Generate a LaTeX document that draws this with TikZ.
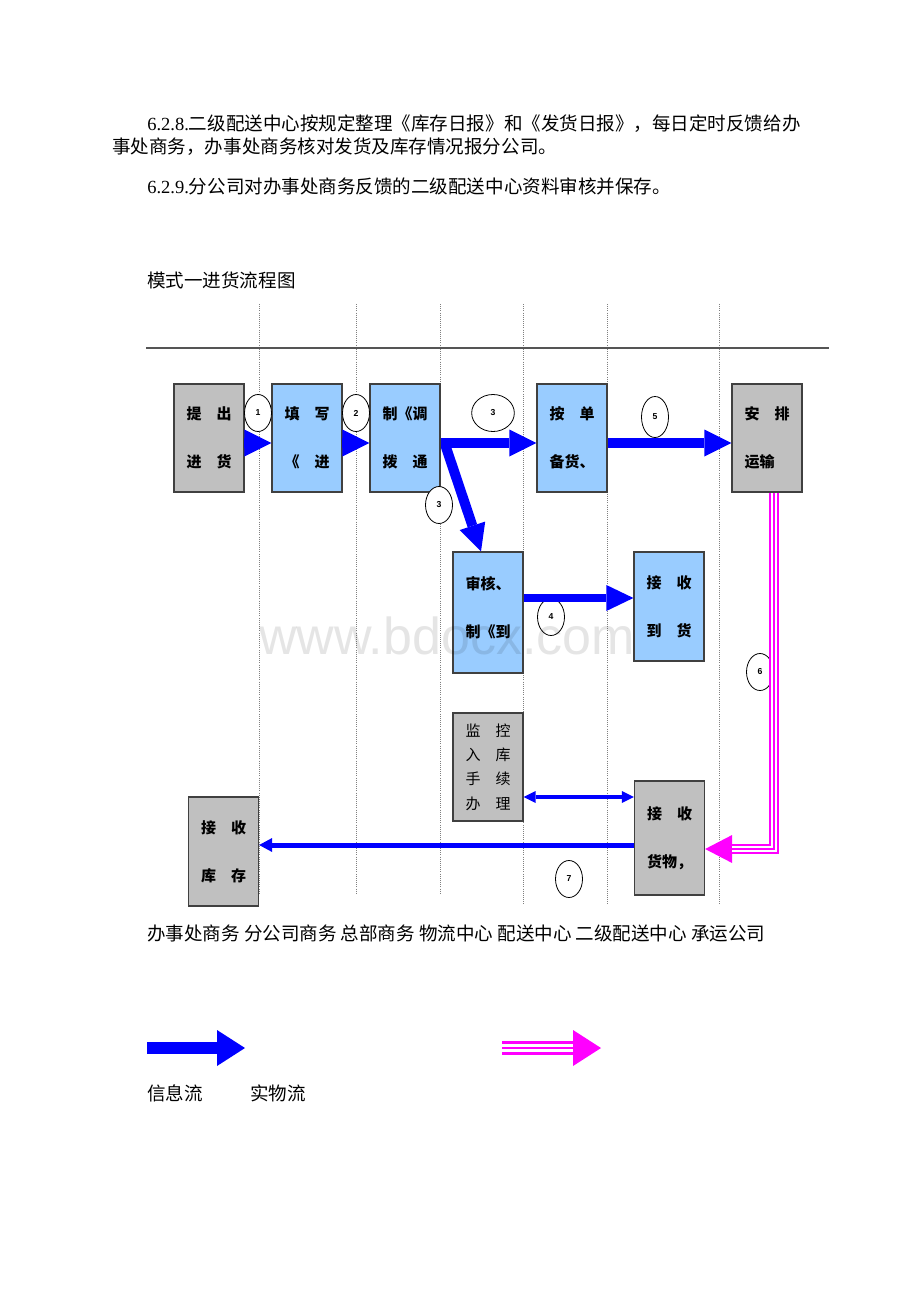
\documentclass[tikz,border=0pt]{standalone}
\usepackage{fontspec}
\setmainfont{Liberation Serif}
\newfontfamily\cjk{Noto Sans CJK SC}
\newfontfamily\wmfont{Liberation Sans}
\usetikzlibrary{arrows.meta,shapes.geometric,calc}

\definecolor{boxgray}{RGB}{192,192,192}
\definecolor{boxblue}{RGB}{153,204,255}
\definecolor{infoblue}{RGB}{0,0,255}
\definecolor{realpink}{RGB}{255,0,255}
\definecolor{rulegray}{RGB}{85,85,85}

\begin{document}
\begin{tikzpicture}[x=0.75pt, y=-0.75pt,
    box/.style={draw=black!75, line width=0.9pt, inner sep=0pt,
        minimum width=52.5pt, minimum height=81pt, align=left,
        font=\cjk\bfseries\fontsize{11.25pt}{36pt}\selectfont},
    graybox/.style={box, fill=boxgray},
    bluebox/.style={box, fill=boxblue},
    boxtext/.style={inner sep=0pt, align=left,
        font=\cjk\bfseries\fontsize{11.25pt}{36pt}\selectfont},
    stepno/.style={ellipse, draw, fill=white, line width=0.6pt, inner sep=0pt,
        minimum width=20.25pt, minimum height=27.75pt,
        font=\wmfont\bfseries\fontsize{6.5pt}{7pt}\selectfont},
    info/.style={draw=infoblue, line width=7.5pt,
        -{Triangle[length=20.25pt, width=20.25pt, line width=0pt]}},
    real/.style={draw=realpink, line width=7.5pt,
        -{Triangle[length=20.25pt, width=21pt, line width=0pt]}},
    lane/.style={densely dotted, black!50, line width=0.6pt},
    txt/.style={anchor=west, inner sep=0pt,
        font=\cjk\fontsize{13.9pt}{16pt}\selectfont}]

    \fill[white] (0, 0) rectangle (920, 1302);
    \useasboundingbox (0, 0) rectangle (920, 1302);

    % text before the chart
    \node[txt] (p1) at (147, 124) {{\rmfamily 6.2.8.}二级配送中心按规定整理《库存日报》和《发货日报》，每日定时反馈给办};
    \node[txt] (p2) at (112, 147) {事处商务，办事处商务核对发货及库存情况报分公司。};
    \node[txt] (p3) at (147, 186) {{\rmfamily 6.2.9.}分公司对办事处商务反馈的二级配送中心资料审核并保存。};
    \node[txt] (title) at (147, 280) {模式一进货流程图};

    % swim lanes
    \foreach \x/\yend in {259/893, 356/893, 440/893, 523/905, 607/905, 719/905} {
        \draw[lane] (\x, 304) -- (\x, \yend);
    }
    \draw[rulegray, line width=0.9pt] (146, 348) -- (829, 348);

    % boxes
    \node[graybox] (tichu) at (209, 438) {提　出\\进　货};
    \node[bluebox] (tianxie) at (307, 438) {填　写\\《　进};
    \node[bluebox] (zhidiao) at (405, 438) {制《调\\拨　通};
    \node[bluebox] (andan) at (572, 438) {按　单\\备货、};
    \node[graybox] (anpai) at (767, 438) {安　排\\运输};
    \node[bluebox, minimum height=90.75pt] (shenhe) at (488, 612.5) {};
    \node[boxtext] (shenhe-t) at (488, 608) {审核、\\制《到};
    \node[bluebox, minimum height=81.75pt] (jieshoudh) at (669, 606.5) {接　收\\到　货};
    \node[graybox, font=\cjk\fontsize{11.25pt}{18.2pt}\selectfont] (jiankong) at (488, 767) {监　控\\入　库\\手　续\\办　理};
    \node[graybox, minimum height=85.5pt] (jieshouhw) at (669.5, 838) {接　收\\货物，};
    \node[graybox, minimum height=81.75pt] (jieshoukc) at (223.5, 851.5) {接　收\\库　存};

    % step numbers
    \node[stepno] (n1) at (258, 413) {1};
    \node[stepno] (n2) at (356, 413) {2};
    \node[stepno, minimum width=32pt] (n3a) at (493, 413) {3};
    \node[stepno, minimum height=30.75pt] (n5) at (655, 417) {5};
    \node[stepno] (n3b) at (439, 505) {3};
    \node[stepno] (n4) at (551, 617) {4};
    \node[stepno] (n6) at (760, 672) {6};
    \node[stepno] (n7) at (569, 879) {7};

    % information flow
    \draw[info] ($(tichu.east) + (0, 5)$) -- ($(tianxie.west) + (0, 5)$);
    \draw[info] ($(tianxie.east) + (0, 5)$) -- ($(zhidiao.west) + (0, 5)$);
    \draw[info] ($(zhidiao.east) + (0, 5)$) -- ($(andan.west) + (0, 5)$);
    \draw[info] ($(andan.east) + (0, 5)$) -- ($(anpai.west) + (0, 5)$);
    \draw[info] ($(zhidiao.east) + (5, 8)$) -- (shenhe.north -| 481, 0);
    \draw[info, line width=6pt, -{Triangle[length=20.25pt, width=19.5pt, line width=0pt]}]
        (shenhe.east |- 0, 598) -- (jieshoudh.west |- 0, 598);
    \draw[infoblue, line width=2.6pt,
        {Triangle[length=9pt, width=9pt, line width=0pt]}-{Triangle[length=9pt, width=9pt, line width=0pt]}]
        (jiankong.east |- 0, 797) -- (jieshouhw.west |- 0, 797);
    \draw[infoblue, line width=3.75pt, -{Triangle[length=9.75pt, width=10.5pt, line width=0pt]}]
        (jieshouhw.west |- 0, 845) -- (jieshoukc.east |- 0, 845);

    % physical flow
    \draw[real] (anpai.south -| 774, 0) |- ($(jieshouhw.east) + (0, 11)$);
    \foreach \w/\c in {4.9pt/white, 1.2pt/realpink} {
        \draw[\c, line width=\w, shorten >=20.25pt] (anpai.south -| 774, 0) |- ($(jieshouhw.east) + (0, 11)$);
    }

    % lane names
    \node[txt] (lanes) at (147, 933) {办事处商务 分公司商务 总部商务 物流中心 配送中心 二级配送中心 承运公司};

    % legend
    \coordinate (lgi-a) at (147, 1048);
    \coordinate (lgi-b) at (245, 1048);
    \draw[info, line width=9pt, -{Triangle[length=21pt, width=27pt, line width=0pt]}] (lgi-a) -- (lgi-b);
    \coordinate (lgr-a) at (502, 1048);
    \coordinate (lgr-b) at (601, 1048);
    \draw[real, line width=10pt, -{Triangle[length=21pt, width=27pt, line width=0pt]}] (lgr-a) -- (lgr-b);
    \foreach \w/\c in {6.5pt/white, 1.7pt/realpink} {
        \draw[\c, line width=\w, shorten >=21pt] (lgr-a) -- (lgr-b);
    }
    \node[txt] (lg-info) at (147, 1093) {信息流};
    \node[txt] (lg-real) at (250, 1093) {实物流};

    % watermark
    \node[font=\wmfont\fontsize{39pt}{40pt}\selectfont, text=black, text opacity=0.1] (wm) at (447, 636) {www.bdocx.com};
\end{tikzpicture}
\end{document}
